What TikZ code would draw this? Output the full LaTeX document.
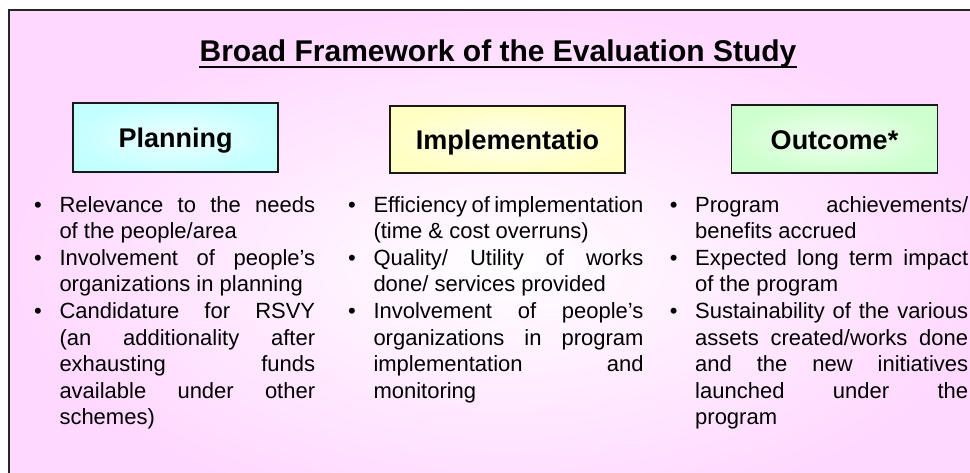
\documentclass[tikz,border=0pt]{standalone}
\usepackage{fontspec}
\setmainfont{Liberation Sans}
\usepackage{enumitem}

\definecolor{slidepink}{RGB}{255,216,255}
\definecolor{planfill}{RGB}{196,255,255}
\definecolor{implfill}{RGB}{255,255,196}
\definecolor{outfill}{RGB}{206,255,206}

\setlist[itemize]{label=\textbullet, leftmargin=21.5pt, labelsep=17.6pt, labelwidth=3.9pt, align=right, topsep=0pt, partopsep=0pt, parsep=0pt, itemsep=0.6pt}
\tolerance=10000
\hyphenpenalty=10000

\tikzset{
	stagebox/.style={draw=black!90, line width=1.5pt, text height=24pt, text depth=3pt, font=\fontsize{27}{32}\selectfont\bfseries},
	pointlist/.style={anchor=north west, inner sep=0pt, align=justify, font=\fontsize{22}{26.4}\selectfont}
}

\begin{document}
\begin{tikzpicture}[x=1pt, y=-1pt]
	\clip (0,0) rectangle (970,473);
	\shade[inner color=white, outer color=slidepink] (9,10) rectangle (1000,520);
	\draw[line width=2pt, black!85] (9,10) rectangle (1000,520);

	\node[inner sep=0pt, anchor=base, font=\fontsize{30}{36}\selectfont\bfseries] (title) at (498,62) {Broad Framework of the Evaluation Study};
	\draw[line width=2.5pt] ([yshift=-5pt]title.base west) -- ([yshift=-5pt]title.base east);

	\node[stagebox, minimum width=205pt, minimum height=69pt, inner color=white!70!planfill, outer color=planfill] (planning) at (175.5,137.5) {Planning};
	\node[stagebox, minimum width=235pt, minimum height=67pt, inner color=white!70!implfill, outer color=implfill] (implementation) at (507.5,139.5) {Implementatio};
	\node[stagebox, minimum width=206pt, minimum height=68pt, inner color=white!70!outfill, outer color=outfill] (outcome) at (834.5,139) {Outcome*};

	\node[pointlist, text width=277.2pt] (planpoints) at (37.8,185.6) {%
		\begin{itemize}
			\item Relevance to the needs\linebreak of the people/area
			\item Involvement of people’s\linebreak organizations in planning
			\item Candidature for RSVY\linebreak (an additionality after\linebreak exhausting funds\linebreak available under other\linebreak schemes)
		\end{itemize}};
	\node[pointlist, text width=291.5pt] (implpoints) at (351.8,185.6) {%
		\begin{itemize}
			\item Efficiency of implementation\linebreak (time \& cost overruns)
			\item Quality/ Utility of works\linebreak done/ services provided
			\item Involvement of people’s\linebreak organizations in program\linebreak implementation and\linebreak monitoring
		\end{itemize}};
	\node[pointlist, text width=294.5pt] (outpoints) at (673.5,185.6) {%
		\begin{itemize}
			\item Program achievements/\linebreak benefits accrued
			\item Expected long term impact\linebreak of the program
			\item Sustainability of the various\linebreak assets created/works done\linebreak and the new initiatives\linebreak launched under the\linebreak program
		\end{itemize}};
\end{tikzpicture}
\end{document}
